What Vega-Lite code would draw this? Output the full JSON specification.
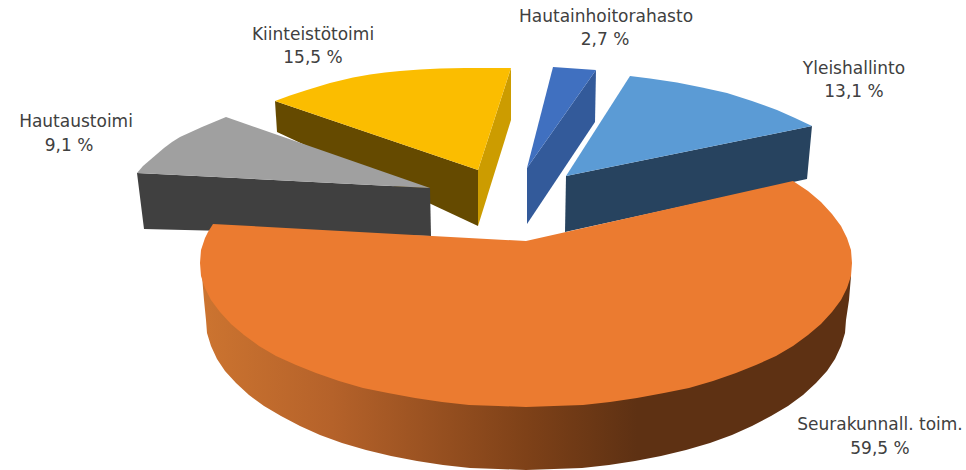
{
"$schema":"https://vega.github.io/schema/vega-lite/v6.json",
"width":966,"height":470,"padding":0,"background":"white",
"autosize":{"type":"fit","contains":"padding"},
"config":{"view":{"stroke":null}},
"datasets":{
"back":[
{"part":"a1","i":1,"x":275,"y":101},{"part":"a1","i":2,"x":478,"y":170},{"part":"a1","i":3,"x":478,"y":226},{"part":"a1","i":4,"x":277,"y":132},
{"part":"a2","i":1,"x":511,"y":68},{"part":"a2","i":2,"x":478,"y":170},{"part":"a2","i":3,"x":478,"y":226},{"part":"a2","i":4,"x":511,"y":120},
{"part":"a3","i":1,"x":275,"y":101},{"part":"a3","i":2,"x":290,"y":95.5},{"part":"a3","i":3,"x":307,"y":90},{"part":"a3","i":4,"x":330,"y":83},{"part":"a3","i":5,"x":353,"y":77.5},{"part":"a3","i":6,"x":370,"y":74.5},{"part":"a3","i":7,"x":385,"y":72.5},{"part":"a3","i":8,"x":400,"y":71},{"part":"a3","i":9,"x":420,"y":69.5},{"part":"a3","i":10,"x":440,"y":68.5},{"part":"a3","i":11,"x":465,"y":68},{"part":"a3","i":12,"x":490,"y":68},{"part":"a3","i":13,"x":511,"y":68},{"part":"a3","i":14,"x":478,"y":170},
{"part":"b1","i":1,"x":137,"y":173},{"part":"b1","i":2,"x":430,"y":188},{"part":"b1","i":3,"x":431,"y":236},{"part":"b1","i":4,"x":144,"y":229},
{"part":"b2","i":1,"x":137,"y":173},{"part":"b2","i":2,"x":143,"y":166},{"part":"b2","i":3,"x":150,"y":160},{"part":"b2","i":4,"x":157,"y":154},{"part":"b2","i":5,"x":164,"y":148},{"part":"b2","i":6,"x":172,"y":142},{"part":"b2","i":7,"x":180,"y":137},{"part":"b2","i":8,"x":191,"y":132},{"part":"b2","i":9,"x":202,"y":127},{"part":"b2","i":10,"x":214,"y":122},{"part":"b2","i":11,"x":226,"y":117},{"part":"b2","i":12,"x":430,"y":188},
{"part":"c1","i":1,"x":596,"y":70},{"part":"c1","i":2,"x":527,"y":168},{"part":"c1","i":3,"x":527,"y":224},{"part":"c1","i":4,"x":595,"y":122},
{"part":"c2","i":1,"x":553,"y":67},{"part":"c2","i":2,"x":596,"y":70},{"part":"c2","i":3,"x":527,"y":168},
{"part":"d1","i":1,"x":566,"y":176},{"part":"d1","i":2,"x":812,"y":126},{"part":"d1","i":3,"x":807,"y":179},{"part":"d1","i":4,"x":565,"y":232},
{"part":"d2","i":1,"x":566,"y":176},{"part":"d2","i":2,"x":630,"y":76},{"part":"d2","i":3,"x":650,"y":78.5},{"part":"d2","i":4,"x":677,"y":82.5},{"part":"d2","i":5,"x":702,"y":87.5},{"part":"d2","i":6,"x":727,"y":93},{"part":"d2","i":7,"x":752,"y":101},{"part":"d2","i":8,"x":777,"y":110},{"part":"d2","i":9,"x":795,"y":118},{"part":"d2","i":10,"x":812,"y":126}
],
"wall":[
{"i":1,"x":202,"y":276},{"i":2,"x":204,"y":300},{"i":3,"x":206,"y":320},{"i":4,"x":207,"y":333},{"i":5,"x":211,"y":346},{"i":6,"x":217,"y":359},{"i":7,"x":225,"y":371},{"i":8,"x":236,"y":383},{"i":9,"x":249,"y":395},{"i":10,"x":264,"y":406},{"i":11,"x":281,"y":416},{"i":12,"x":300,"y":426},{"i":13,"x":320,"y":435},{"i":14,"x":342,"y":443},{"i":15,"x":366,"y":450},{"i":16,"x":391,"y":456},{"i":17,"x":417,"y":461},{"i":18,"x":443,"y":465},{"i":19,"x":470,"y":468},{"i":20,"x":498,"y":469},{"i":21,"x":526,"y":470},{"i":22,"x":554,"y":469},{"i":23,"x":582,"y":468},{"i":24,"x":609,"y":465},{"i":25,"x":635,"y":461},{"i":26,"x":661,"y":456},{"i":27,"x":686,"y":450},{"i":28,"x":710,"y":443},{"i":29,"x":732,"y":435},{"i":30,"x":752,"y":426},{"i":31,"x":771,"y":416},{"i":32,"x":788,"y":406},{"i":33,"x":803,"y":395},{"i":34,"x":816,"y":383},{"i":35,"x":827,"y":371},{"i":36,"x":835,"y":359},{"i":37,"x":841,"y":346},{"i":38,"x":845,"y":333},{"i":39,"x":846,"y":320},{"i":40,"x":849,"y":300},{"i":41,"x":851,"y":276},{"i":42,"x":526,"y":300}
],
"top":[
{"i":1,"x":526,"y":241},{"i":2,"x":213,"y":224},{"i":3,"x":208,"y":232},{"i":4,"x":205,"y":238},{"i":5,"x":201,"y":250},{"i":6,"x":200,"y":263},{"i":7,"x":201,"y":276},{"i":8,"x":205,"y":288},{"i":9,"x":211,"y":300},{"i":10,"x":220,"y":312},{"i":11,"x":231,"y":324},{"i":12,"x":244,"y":335},{"i":13,"x":259,"y":346},{"i":14,"x":276,"y":356},{"i":15,"x":296,"y":365},{"i":16,"x":316,"y":373},{"i":17,"x":339,"y":381},{"i":18,"x":363,"y":388},{"i":19,"x":388,"y":393},{"i":20,"x":415,"y":398},{"i":21,"x":442,"y":402},{"i":22,"x":469,"y":405},{"i":23,"x":498,"y":406},{"i":24,"x":526,"y":407},{"i":25,"x":554,"y":406},{"i":26,"x":583,"y":405},{"i":27,"x":610,"y":402},{"i":28,"x":637,"y":398},{"i":29,"x":664,"y":393},{"i":30,"x":689,"y":388},{"i":31,"x":713,"y":381},{"i":32,"x":736,"y":373},{"i":33,"x":756,"y":365},{"i":34,"x":776,"y":356},{"i":35,"x":793,"y":346},{"i":36,"x":808,"y":335},{"i":37,"x":821,"y":324},{"i":38,"x":832,"y":312},{"i":39,"x":841,"y":300},{"i":40,"x":847,"y":288},{"i":41,"x":851,"y":276},{"i":42,"x":852,"y":263},{"i":43,"x":851,"y":250},{"i":44,"x":847,"y":238},{"i":45,"x":841,"y":226},{"i":46,"x":832,"y":214},{"i":47,"x":821,"y":202},{"i":48,"x":808,"y":191},{"i":49,"x":793,"y":181}
],
"labels":[
{"t":"Hautainhoitorahasto","x":606,"y":17},{"t":"2,7 %","x":605,"y":40},
{"t":"Yleishallinto","x":854,"y":69},{"t":"13,1 %","x":854,"y":92},
{"t":"Kiinteistötoimi","x":313,"y":35},{"t":"15,5 %","x":313,"y":58},
{"t":"Hautaustoimi","x":76,"y":122},{"t":"9,1 %","x":69,"y":146},
{"t":"Seurakunnall. toim.","x":880,"y":425},{"t":"59,5 %","x":880,"y":449}
]
},
"encoding":{
"x":{"field":"x","type":"quantitative","axis":null,"scale":{"domain":[0,966],"nice":false,"zero":false}},
"y":{"field":"y","type":"quantitative","axis":null,"scale":{"domain":[470,0],"nice":false,"zero":false}}
},
"layer":[
{"data":{"name":"back"},"mark":{"type":"line","interpolate":"linear","strokeWidth":0},
 "encoding":{"order":{"field":"i","type":"quantitative"},"detail":{"field":"part"},
 "fill":{"field":"part","type":"nominal","legend":null,"scale":{"domain":["a1","a2","a3","b1","b2","c1","c2","d1","d2"],"range":["#654A00","#CC9C00","#FBBD00","#404040","#A0A0A0","#335A9A","#4070C0","#27435F","#5B9BD5"]}}}},
{"data":{"name":"wall"},"mark":{"type":"line","strokeWidth":0,"fill":{"gradient":"linear","x1":0,"y1":0,"x2":1,"y2":0,"stops":[{"offset":0,"color":"#CC7430"},{"offset":0.2,"color":"#B5622A"},{"offset":0.5,"color":"#7E4118"},{"offset":0.67,"color":"#5E3113"},{"offset":1,"color":"#5E3113"}]}},
 "encoding":{"order":{"field":"i","type":"quantitative"}}},
{"data":{"name":"top"},"mark":{"type":"line","strokeWidth":0,"fill":"#EB7B30"},
 "encoding":{"order":{"field":"i","type":"quantitative"}}},
{"data":{"name":"labels"},"mark":{"type":"text","font":"DejaVu Sans","fontSize":17,"fill":"#404040","align":"center","baseline":"middle"},
 "encoding":{"text":{"field":"t","type":"nominal"}}}
]
}
